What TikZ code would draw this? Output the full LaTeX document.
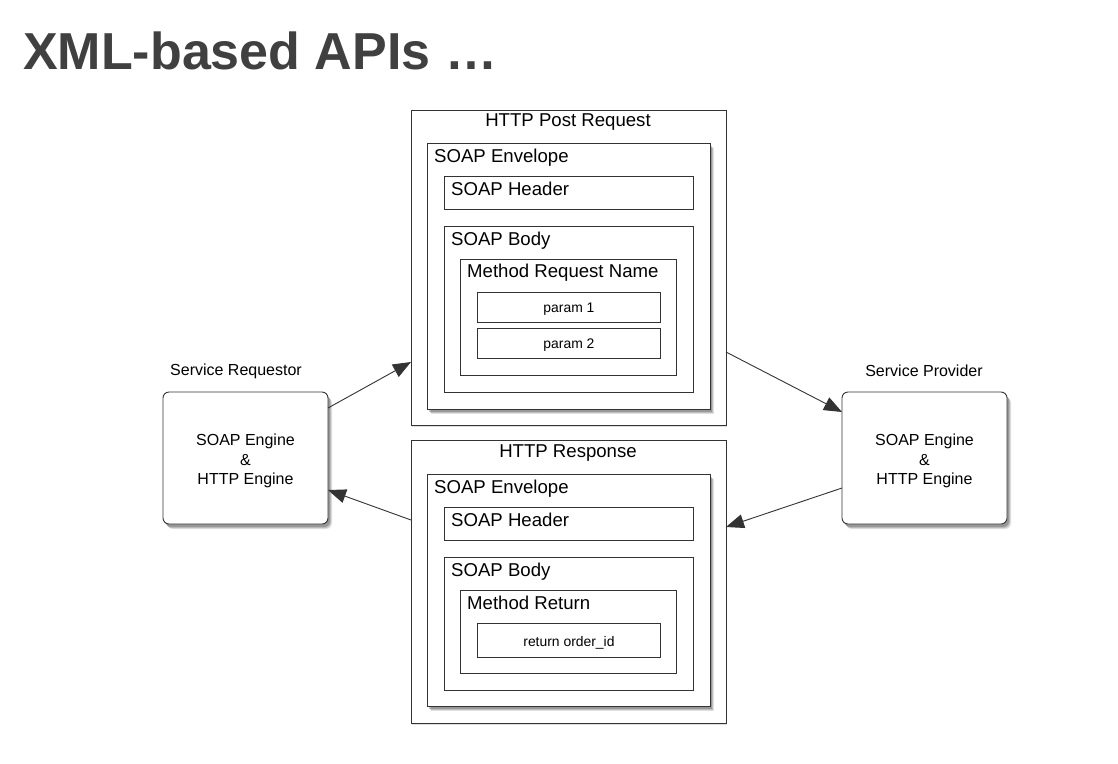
\documentclass[tikz,border=0pt]{standalone}
\usepackage{fontspec}
\setmainfont{Liberation Sans}
\usetikzlibrary{arrows.meta,shadows,positioning}
\definecolor{titlegray}{HTML}{404040}
\definecolor{linegray}{HTML}{333333}
\tikzset{
  softshadow/.style={
    drop shadow={shadow xshift=4pt, shadow yshift=-5pt, opacity=0.12, fill=black},
    drop shadow={shadow xshift=3pt, shadow yshift=-4pt, opacity=0.15, fill=black},
    drop shadow={shadow xshift=2pt, shadow yshift=-3pt, opacity=0.2, fill=black}},
  box/.style={draw=linegray, line width=0.9pt, fill=white, anchor=north west, inner sep=0pt},
  shbox/.style={box, softshadow},
  engine/.style={box, rounded corners=6pt, softshadow, align=center, anchor=center, font=\fontsize{16}{19.5}\selectfont},
  lbl/.style={anchor=north west, inner sep=0pt, font=\fontsize{18.6}{21}\selectfont, text=black},
  small/.style={anchor=center, inner sep=0pt, font=\fontsize{13.9}{16}\selectfont},
  captext/.style={anchor=center, inner sep=0pt, font=\fontsize{16}{19}\selectfont},
  arr/.style={draw=linegray, line width=0.9pt, -{Triangle[length=18pt, width=14pt]}}
}
\begin{document}
\begin{tikzpicture}[x=1pt,y=-1pt]
\useasboundingbox[fill=white] (0,0) rectangle (1118,763);
% title
\node[anchor=west, inner sep=0pt, text=titlegray, font=\fontsize{52}{58}\selectfont\bfseries] (title) at (23,51) {XML-based APIs \dots};

% ---- HTTP Post Request ----
\node[box, drop shadow={shadow xshift=1pt, shadow yshift=-1.5pt, opacity=0.25}, minimum width=315pt, minimum height=315pt] (post) at (411,110) {};
\node[captext, font=\fontsize{18.6}{21}\selectfont] (postl) at (568,122) {HTTP Post Request};
\node[shbox, minimum width=283pt, minimum height=266pt] (penv) at (427,143) {};
\node[lbl] (penvl) at (434,149) {SOAP Envelope};
\node[box, minimum width=249pt, minimum height=33pt] (phead) at (444,176) {};
\node[lbl] (pheadl) at (451,182) {SOAP Header};
\node[box, minimum width=249pt, minimum height=166pt] (pbody) at (444,226) {};
\node[lbl] (pbodyl) at (451,232) {SOAP Body};
\node[box, minimum width=216pt, minimum height=116pt] (pmeth) at (460,259) {};
\node[lbl] (pmethl) at (467,264) {Method Request Name};
\node[box, minimum width=183pt, minimum height=30pt] (p1) at (477,292) {};
\node[small] at ([yshift=-2pt]p1.center) {param 1};
\node[box, minimum width=183pt, minimum height=30pt] (p2) at (477,328) {};
\node[small] at ([yshift=-2pt]p2.center) {param 2};

% ---- HTTP Response ----
\node[box, drop shadow={shadow xshift=1pt, shadow yshift=-1.5pt, opacity=0.25}, minimum width=315pt, minimum height=283pt] (resp) at (411,440) {};
\node[captext, font=\fontsize{18.6}{21}\selectfont] (respl) at (568,453) {HTTP Response};
\node[shbox, minimum width=283pt, minimum height=232pt] (renv) at (427,474) {};
\node[lbl] (renvl) at (434,480) {SOAP Envelope};
\node[box, minimum width=249pt, minimum height=33pt] (rhead) at (444,507) {};
\node[lbl] (rheadl) at (451,513) {SOAP Header};
\node[box, minimum width=249pt, minimum height=133pt] (rbody) at (444,557) {};
\node[lbl] (rbodyl) at (451,563) {SOAP Body};
\node[box, minimum width=216pt, minimum height=83pt] (rmeth) at (460,590) {};
\node[lbl] (rmethl) at (467,596) {Method Return};
\node[box, minimum width=183pt, minimum height=34pt] (rret) at (477,623) {};
\node[small] at ([yshift=-2pt]rret.center) {return order\_id};

% ---- Engines ----
\node[engine, minimum width=165pt, minimum height=132pt] (req) at (245.5,458) {};
\node[captext, align=center, font=\fontsize{16}{19.5}\selectfont] (reqt) at ([yshift=-3pt]req.center) {SOAP Engine\\\&\\HTTP Engine};
\node[captext] (reql) at (236,371) {Service Requestor};
\node[engine, minimum width=165pt, minimum height=132pt] (prov) at (924.5,458) {};
\node[captext, align=center, font=\fontsize{16}{19.5}\selectfont] (provt) at ([yshift=-3pt]prov.center) {SOAP Engine\\\&\\HTTP Engine};
\node[captext] (provl) at (924,371) {Service Provider};

% ---- arrows ----
\coordinate (a1s) at (328,408);
\coordinate (a1e) at (411,362);
\coordinate (a2s) at (726,352);
\coordinate (a2e) at (842,412);
\coordinate (a3s) at (842,488);
\coordinate (a3e) at (726,527);
\coordinate (a4s) at (411,520);
\coordinate (a4e) at (328,490);
\draw[arr] (a1s) -- (a1e);
\draw[arr] (a2s) -- (a2e);
\draw[arr] (a3s) -- (a3e);
\draw[arr] (a4s) -- (a4e);
\end{tikzpicture}
\end{document}
